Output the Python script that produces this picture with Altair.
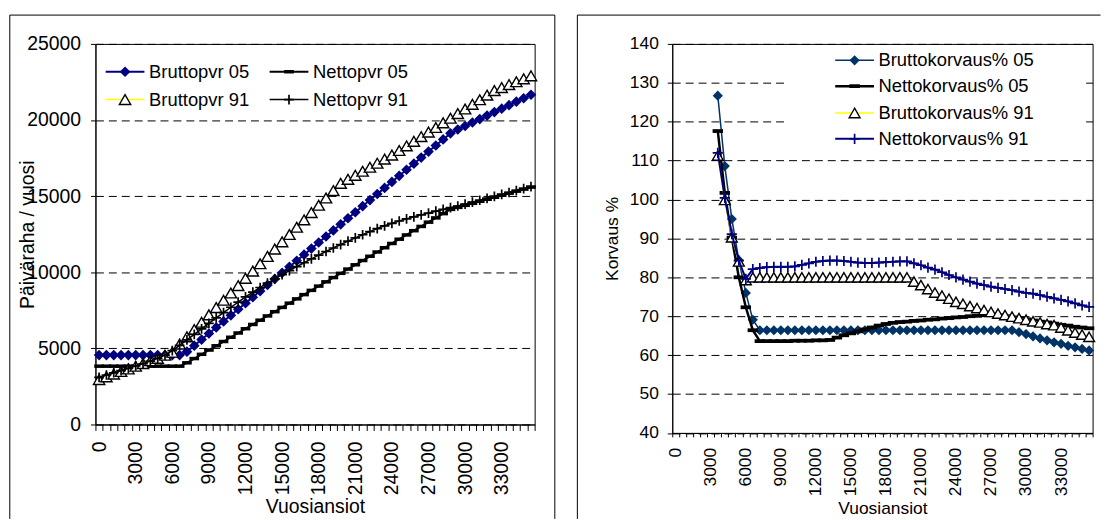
import altair as alt
import pandas as pd

FONT = "Liberation Sans"

# ---------------- data ----------------
INCOME = [0, 600, 1200, 1800, 2400, 3000, 3600, 4200, 4800, 5400,
          6000, 6600, 7200, 7800, 8400, 9000, 9600, 10200, 10800, 11400,
          12000, 12600, 13200, 13800, 14400, 15000, 15600, 16200, 16800, 17400,
          18000, 18600, 19200, 19800, 20400, 21000, 21600, 22200, 22800, 23400,
          24000, 24600, 25200, 25800, 26400, 27000, 27600, 28200, 28800, 29400,
          30000, 30600, 31200, 31800, 32400, 33000, 33600, 34200, 34800, 35400]

LEFT_NAMES = ["Bruttopvr 05", "Nettopvr 05", "Bruttopvr 91", "Nettopvr 91"]
RIGHT_NAMES = ["Bruttokorvaus% 05", "Nettokorvaus% 05", "Bruttokorvaus% 91", "Nettokorvaus% 91"]

BRUTTOPVR_05 = [4560, 4560, 4560, 4560, 4560, 4560, 4560, 4560, 4560, 4560,
                4560, 4560, 4781, 5180, 5578, 5976, 6374, 6773, 7171, 7570,
                7968, 8366, 8765, 9163, 9562, 9960, 10358, 10757, 11155, 11554,
                11952, 12350, 12749, 13147, 13546, 13944, 14342, 14741, 15139, 15538,
                15936, 16334, 16733, 17131, 17530, 17928, 18326, 18725, 19123, 19380,
                19608, 19836, 20064, 20292, 20520, 20748, 20976, 21204, 21432, 21660]
NETTOPVR_05 = [3830, 3830, 3830, 3830, 3830, 3830, 3830, 3830, 3830, 3830,
               3830, 3830, 4050, 4330, 4610, 4890, 5170, 5450, 5730, 6010,
               6290, 6570, 6850, 7130, 7410, 7690, 7970, 8250, 8530, 8810,
               9090, 9370, 9650, 9930, 10210, 10490, 10770, 11050, 11330, 11610,
               11890, 12170, 12450, 12730, 13010, 13290, 13570, 13850, 14130, 14263,
               14396, 14529, 14662, 14795, 14928, 15061, 15194, 15327, 15460, 15593]
BRUTTOPVR_91 = [2950, 3130, 3310, 3480, 3650, 3830, 4000, 4190, 4340, 4550,
                4750, 5280, 5760, 6240, 6720, 7200, 7680, 8160, 8640, 9120,
                9600, 10080, 10560, 11040, 11520, 12000, 12480, 12960, 13440, 13920,
                14400, 14880, 15360, 15840, 16105, 16370, 16635, 16900, 17165, 17430,
                17695, 17998, 18301, 18604, 18907, 19210, 19513, 19816, 20119, 20422,
                20725, 21028, 21331, 21634, 21937, 22130, 22323, 22516, 22709, 22902]
NETTOPVR_91 = [3100, 3250, 3400, 3540, 3690, 3840, 3990, 4160, 4340, 4560,
               4850, 5200, 5560, 5920, 6280, 6640, 7000, 7350, 7700, 8040,
               8380, 8700, 9000, 9290, 9570, 9845, 10110, 10370, 10625, 10875,
               11120, 11365, 11595, 11820, 12040, 12255, 12465, 12670, 12870, 13050,
               13215, 13365, 13505, 13640, 13770, 13890, 14010, 14125, 14240, 14350,
               14477, 14604, 14731, 14858, 14985, 15112, 15239, 15366, 15493, 15620]

# right chart starts at the 7th income category (3600)
RIGHT_START = 6
BRUTTOKORVAUS_05 = [126.7, 108.6, 95.0, 84.4, 76.0, 69.1,
                    66.4, 66.4, 66.4, 66.4, 66.4, 66.4, 66.4, 66.4, 66.4, 66.4,
                    66.4, 66.4, 66.4, 66.4, 66.4, 66.4, 66.4, 66.4, 66.4, 66.4,
                    66.4, 66.4, 66.4, 66.4, 66.4, 66.4, 66.4, 66.4, 66.4, 66.4,
                    66.4, 66.4, 66.4, 66.4, 66.4, 66.4, 66.4,
                    65.9, 65.4, 64.8, 64.3, 63.8, 63.3, 62.9, 62.4, 62.0, 61.6, 61.2]
NETTOKORVAUS_05 = [117.6, 101.7, 90.2, 80.0, 72.3, 66.4,
                   63.6, 63.6, 63.6, 63.6, 63.6, 63.7, 63.7, 63.7, 63.8, 63.8,
                   63.9, 64.5, 65.1, 65.6, 66.1, 66.6, 67.1, 67.6, 68.0, 68.3,
                   68.5, 68.6, 68.8, 68.9, 69.1, 69.2, 69.4, 69.5, 69.7, 69.8,
                   70.0, 70.1, 70.3, 70.5, 70.3, 70.0, 69.7, 69.5, 69.2, 68.9,
                   68.6, 68.4, 68.1, 67.8, 67.6, 67.3, 67.1, 66.9]
BRUTTOKORVAUS_91 = [111.3, 99.9, 90.3, 84.1, 79.3,
                    80.0, 80.0, 80.0, 80.0, 80.0, 80.0, 80.0, 80.0, 80.0, 80.0,
                    80.0, 80.0, 80.0, 80.0, 80.0, 80.0, 80.0, 80.0, 80.0, 80.0,
                    80.0, 80.0, 80.0,
                    78.9, 78.0, 77.0, 76.1, 75.3, 74.5, 73.7, 73.2, 72.6, 72.1,
                    71.6, 71.1, 70.7, 70.3, 69.9, 69.5, 69.1, 68.7, 68.4, 68.0,
                    67.7, 67.1, 66.4, 65.8, 65.3, 64.7]
NETTOKORVAUS_91 = [112.0, 100.4, 91.1, 84.3, 79.6,
                   82.1, 82.4, 82.6, 82.7, 82.7, 82.7, 82.8, 83.2, 83.6, 84.0,
                   84.2, 84.3, 84.3, 84.2, 84.0, 83.8, 83.7, 83.7, 83.8, 83.9,
                   84.0, 84.1, 84.1, 83.6, 83.1, 82.5, 82.0, 81.3, 80.6, 80.0,
                   79.4, 78.9, 78.4, 78.0, 77.6, 77.3, 77.0, 76.7, 76.3, 76.0,
                   75.8, 75.4, 75.0, 74.6, 74.2, 73.8, 73.3, 72.8, 72.4]

LEFT_Y_TICKS = [0, 5000, 10000, 15000, 20000, 25000]
RIGHT_Y_TICKS = [40, 50, 60, 70, 80, 90, 100, 110, 120, 130, 140]

# ---------------- styling ----------------
NAVY = "#000080"
SLATE = "#003366"
YELLOW = "#FFFF00"
PLUS = "M-1,0H1M0,-1V1"
DASH = "M-1,-0.36H1V0.36H-1Z"

HALF = (INCOME[1] - INCOME[0]) // 2
TICK_VALUES = [v - HALF for v in INCOME] + [INCOME[-1] + HALF]
X_DOMAIN = [INCOME[0] - HALF, INCOME[-1] + HALF]
LABEL_EXPR = ("(datum.value + 300) % 3000 == 0 && datum.value < 35000"
              " ? '' + (datum.value + 300) : ''")

W_L, H_L = 442, 383
W_R, H_R = 423, 391.5


def x_enc(w, fs, tick_size, label_pad, title_y):
    step = w / len(INCOME)
    return alt.X(
        "inc:Q",
        scale=alt.Scale(domain=X_DOMAIN, nice=False, zero=False),
        axis=alt.Axis(
            values=TICK_VALUES, labelExpr=LABEL_EXPR, labelAngle=270,
            labelAlign="right", labelBaseline="middle", labelOffset=step / 2,
            labelOverlap=False, labelFlush=False, labelBound=False,
            labelFont=FONT, labelFontSize=fs, labelColor="black", labelPadding=label_pad,
            tickSize=tick_size, tickColor="black", tickWidth=1,
            domainColor="black", domainWidth=1, grid=False,
            title="Vuosiansiot", titleFont=FONT, titleFontSize=fs, titleFontWeight="normal",
            titleColor="black", titleY=title_y, titleBaseline="middle"),
    )


def y_enc(domain, values, fs, label_pad, title, title_x, h, dash):
    return alt.Y(
        "v:Q",
        scale=alt.Scale(domain=domain, nice=False, zero=False),
        axis=alt.Axis(
            values=values, format="d", grid=True, gridColor="black", gridDash=dash, gridWidth=1,
            tickSize=5, tickColor="black", domainColor="black",
            labelFont=FONT, labelFontSize=fs, labelColor="black", labelPadding=label_pad,
            title=title, titleFont=FONT, titleFontSize=fs, titleFontWeight="normal",
            titleColor="black", titleAngle=270, titleX=title_x, titleY=h / 2,
            titleAlign="center", titleBaseline="middle"),
    )


def marker(kind, color, size):
    if kind == "diamond":
        return dict(shape="diamond", size=size, filled=True, color=color, opacity=1, strokeWidth=0)
    if kind == "triangle":
        return dict(shape="triangle-up", size=size, filled=True, fill="white", stroke="black",
                    strokeWidth=1.4, opacity=1)
    if kind == "dash":
        return dict(shape=DASH, size=size, filled=True, color=color, opacity=1, strokeWidth=0)
    return dict(shape=PLUS, size=size, filled=False, color=color, strokeWidth=1.7, opacity=1)


def series(values, start, xe, ye, line_color, lw, mk):
    df = pd.DataFrame({"inc": INCOME[start:start + len(values)], "v": values})
    base = alt.Chart(df).encode(x=xe, y=ye)
    return [base.mark_line(color=line_color, strokeWidth=lw), base.mark_point(**mk)]


def legend_entry(label, x1, x2, y, tx, line_color, lw, mk, fs):
    b = alt.Chart(pd.DataFrame({"label": [label]}))
    return [
        b.mark_rule(color=line_color, strokeWidth=lw).encode(
            x=alt.value(x1), x2=alt.value(x2), y=alt.value(y)),
        b.mark_point(**mk).encode(x=alt.value((x1 + x2) / 2), y=alt.value(y)),
        b.mark_text(align="left", baseline="middle", font=FONT, fontSize=fs, color="black").encode(
            x=alt.value(tx), y=alt.value(y), text="label:N"),
    ]


def frame(x1, x2, y1, y2, right=True):
    b = alt.Chart(pd.DataFrame({"k": [0]}))
    out = [
        b.mark_rule(color="black", strokeWidth=1).encode(x=alt.value(x1), y=alt.value(y1), y2=alt.value(y2)),
        b.mark_rule(color="black", strokeWidth=1).encode(x=alt.value(x1), x2=alt.value(x2), y=alt.value(y1)),
    ]
    if right:
        out.append(b.mark_rule(color="black", strokeWidth=1).encode(
            x=alt.value(x2), y=alt.value(y1), y2=alt.value(y2)))
    return out


# ---------------- left chart ----------------
xl = x_enc(W_L, 19.5, 6, 10.5, 83)
yl = y_enc([0, 25000], LEFT_Y_TICKS, 19.5, 10, "Päiväraha / vuosi", -68.7, H_L, [8, 5])

L_STYLE = [
    (BRUTTOPVR_05, NAVY, 2, marker("diamond", NAVY, 115)),
    (NETTOPVR_05, "black", 2, marker("dash", "black", 95)),
    (BRUTTOPVR_91, YELLOW, 1.5, marker("triangle", "black", 130)),
    (NETTOPVR_91, "black", 1.5, marker("plus", "black", 95)),
]
left_layers = frame(-86.2, 462.3, -29, 478)
for vals, c, lw, mk in L_STYLE:
    left_layers += series(vals, 0, xl, yl, c, lw, mk)
leg_pos_l = [(10.3, 49.3, 28, 54), (175.3, 214.3, 28, 219), (10.3, 49.3, 56, 54), (175.3, 214.3, 56, 219)]
for name, (x1, x2, y, tx), (vals, c, lw, mk) in zip(LEFT_NAMES, leg_pos_l, L_STYLE):
    left_layers += legend_entry(name, x1, x2, y, tx, c, lw, mk, 18.5)

left = alt.layer(*left_layers).properties(width=W_L, height=H_L)

# ---------------- right chart ----------------
xr = x_enc(W_R, 17.5, 4, 10.5, 76.5)
yr = y_enc([40, 140], RIGHT_Y_TICKS, 17.5, 9, "Korvaus %", -60, H_R, [8, 5])

R_STYLE = [
    (BRUTTOKORVAUS_05, SLATE, 1.5, marker("diamond", SLATE, 105)),
    (NETTOKORVAUS_05, "black", 2.5, marker("dash", "black", 110)),
    (BRUTTOKORVAUS_91, YELLOW, 1.5, marker("triangle", "black", 120)),
    (NETTOKORVAUS_91, NAVY, 2, marker("plus", NAVY, 105)),
]
bg = alt.Chart(pd.DataFrame({"k": [0]})).mark_rect(color="white").encode(
    x=alt.value(116), x2=alt.value(413), y=alt.value(5), y2=alt.value(110))
right_layers = frame(-95.5, 431, -29, 478, right=False) + [bg]
for vals, c, lw, mk in R_STYLE:
    right_layers += series(vals, RIGHT_START, xr, yr, c, lw, mk)
for k, (name, (vals, c, lw, mk)) in enumerate(zip(RIGHT_NAMES, R_STYLE)):
    y = [16.5, 42.5, 69.5, 95.5][k]
    right_layers += legend_entry(name, 164, 203, y, 207.5, c, lw, mk, 18.5)

right = alt.layer(*right_layers).properties(width=W_R, height=H_R)

chart = alt.hconcat(left, right, spacing=19.5).properties(
    padding={"left": 0, "top": 4.5, "right": 0, "bottom": 0}
).configure_view(stroke="black", strokeWidth=1)

chart.save("out.html", embed_options={"renderer": "svg", "actions": False})
